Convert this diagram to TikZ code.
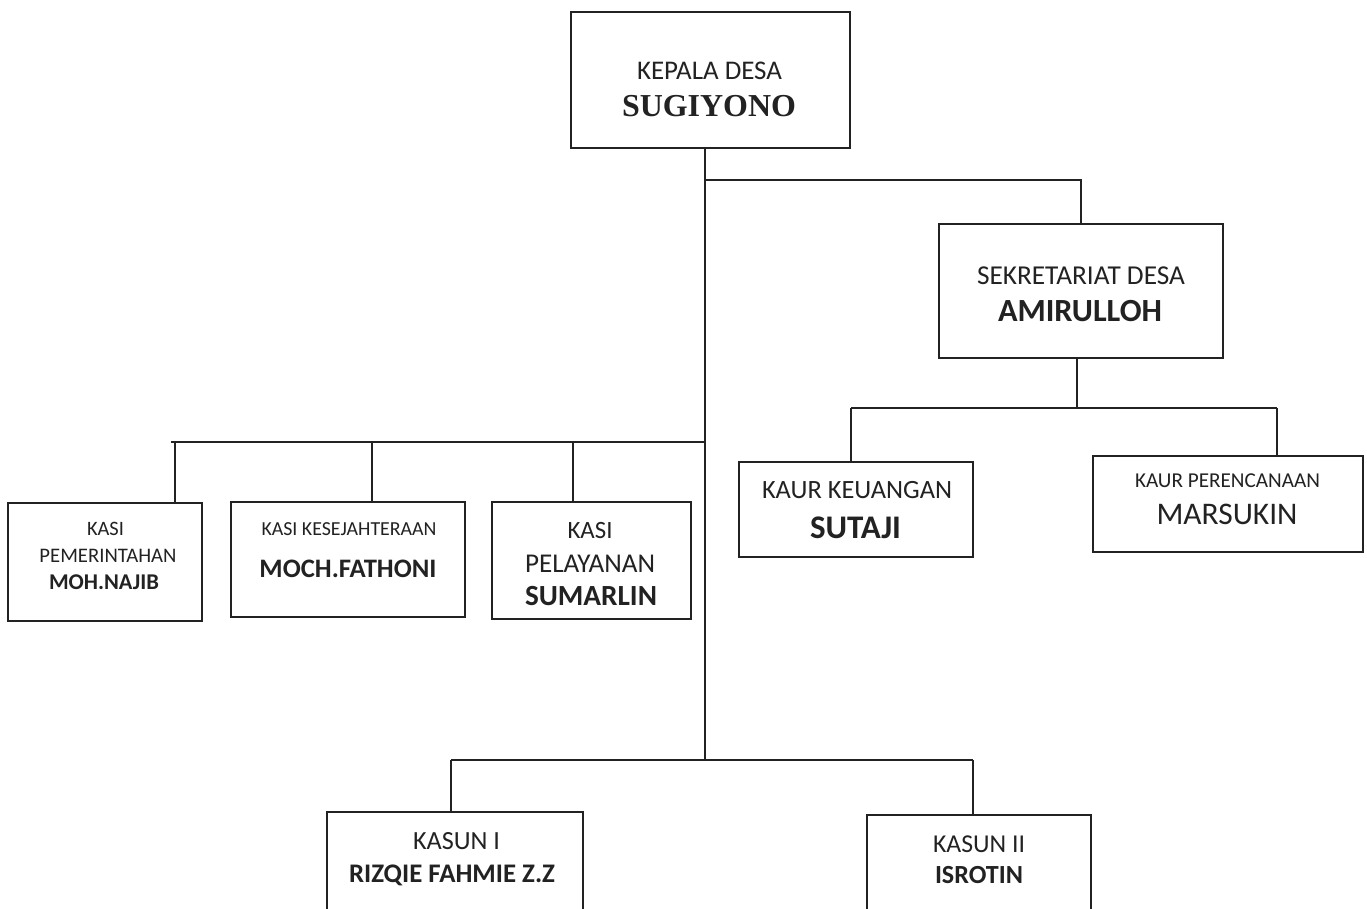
\documentclass[tikz,border=0pt]{standalone}
\usepackage{fontspec}
\usepackage{graphicx}
\setmainfont{Carlito}
\newfontfamily\serifname{Liberation Serif}
\newcommand\fw[2]{\resizebox{#1pt}{!}{#2}}
\definecolor{ink}{HTML}{222222}
\begin{document}
\begin{tikzpicture}[x=1pt,y=-1pt,
  box/.style={draw=ink, line width=1.6pt, rectangle, inner sep=0pt, fill=none},
  lbl/.style={anchor=base, inner sep=0pt, text=ink, font=\fontsize{24}{28}\selectfont},
  wire/.style={draw=ink, line width=1.6pt}]
\useasboundingbox (0,0) rectangle (1367,909);
\clip (0,0) rectangle (1367,909);
\fill[white] (0,0) rectangle (1367,909);

% boxes
\node[box, minimum width=279pt, minimum height=136pt] (kd)  at (710.5,80) {};
\node[box, minimum width=284pt, minimum height=134pt] (sek) at (1081,291) {};
\node[box, minimum width=234pt, minimum height=95pt]  (kk)  at (856,509.5) {};
\node[box, minimum width=270pt, minimum height=96pt]  (kpr) at (1228,504) {};
\node[box, minimum width=194pt, minimum height=118pt] (kpm) at (105,562) {};
\node[box, minimum width=234pt, minimum height=115pt] (kes) at (348,559.5) {};
\node[box, minimum width=199pt, minimum height=117pt] (pel) at (591.5,560.5) {};
\node[box, minimum width=256pt, minimum height=128pt] (k1)  at (455,876) {};
\node[box, minimum width=224pt, minimum height=125pt] (k2)  at (979,877.5) {};

% texts
\node[lbl] (kdA) at (709.5,80) {\fw{145}{KEPALA DESA}};
\node[lbl] (kdB) at (709,117) {\fw{174}{\serifname\bfseries SUGIYONO}};
\node[lbl] (sekA) at (1081,284) {\fw{208}{SEKRETARIAT DESA}};
\node[lbl] (sekB) at (1080,321) {\fw{164}{\bfseries AMIRULLOH}};
\node[lbl] (kkA) at (857,498) {\fw{190}{KAUR KEUANGAN}};
\node[lbl] (kkB) at (855.5,538) {\fw{91}{\bfseries SUTAJI}};
\node[lbl] (kprA) at (1227.5,487) {\fw{185}{KAUR PERENCANAAN}};
\node[lbl] (kprB) at (1227,524) {\fw{141}{MARSUKIN}};
\node[lbl] (kpmA) at (105.5,535) {\fw{37}{KASI}};
\node[lbl] (kpmB) at (108,562) {\fw{137}{PEMERINTAHAN}};
\node[lbl] (kpmC) at (104,589) {\fw{110}{\bfseries MOH.NAJIB}};
\node[lbl] (kesA) at (349,535) {\fw{175}{KASI KESEJAHTERAAN}};
\node[lbl] (kesB) at (348,577) {\fw{177}{\bfseries MOCH.FATHONI}};
\node[lbl] (pelA) at (590,538) {\fw{45}{KASI}};
\node[lbl] (pelB) at (590,572) {\fw{130}{PELAYANAN}};
\node[lbl] (pelC) at (591,605) {\fw{132}{\bfseries SUMARLIN}};
\node[lbl] (k1A) at (456.5,849) {\fw{87}{KASUN I}};
\node[lbl] (k1B) at (452,882) {\fw{206}{\bfseries RIZQIE FAHMIE Z.Z}};
\node[lbl] (k2A) at (979,852) {\fw{92}{KASUN II}};
\node[lbl] (k2B) at (979,883) {\fw{88}{\bfseries ISROTIN}};

% connector points
\coordinate (tr) at (705,0);
\coordinate (jSek) at (705,180);
\coordinate (jLeft) at (705,442);
\coordinate (jBot) at (705,760);
\coordinate (lb) at (171,442);
\coordinate (lpm) at (175,442);
\coordinate (lks) at (372,442);
\coordinate (lpl) at (573,442);
\coordinate (sd) at (1077,0);
\coordinate (rb1) at (851,408);
\coordinate (rb2) at (1277,408);
\coordinate (bb1) at (451,760);
\coordinate (bb2) at (973,760);

% connectors
\draw[wire] (kd.south -| tr) -- (jBot);
\draw[wire] (jSek) -| (sek.north);
\draw[wire] (lb) -- (jLeft);
\draw[wire] (lpm) -- (lpm |- kpm.north);
\draw[wire] (lks) -- (lks |- kes.north);
\draw[wire] (lpl) -- (lpl |- pel.north);
\draw[wire] (sek.south -| sd) -- (sd |- rb1);
\draw[wire] (rb1) -- (rb2);
\draw[wire] (rb1) -- (rb1 |- kk.north);
\draw[wire] (rb2) -- (rb2 |- kpr.north);
\draw[wire] (bb1) -- (bb2);
\draw[wire] (bb1) -- (bb1 |- k1.north);
\draw[wire] (bb2) -- (bb2 |- k2.north);
\end{tikzpicture}
\end{document}
